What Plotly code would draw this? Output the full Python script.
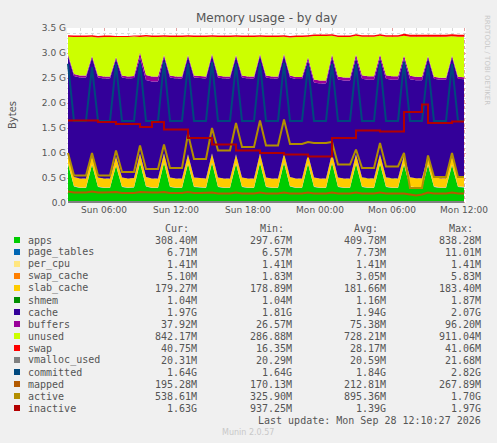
import pandas as pd
import plotly.graph_objects as go

N = 67
times = pd.date_range("2026-09-27 03:00", periods=N, freq="30min")

apps = [.78,.33,.30,.30, .76,.32,.30,.30, .74,.32,.30,.31, .80,.33,.30,.30,
        .80,.32,.30,.30, .78,.32,.31,.30, .80,.32,.30,.30, .78,.32,.30,.30,
        .80,.32,.30,.30, .80,.33,.30,.30, .78,.32,.30,.30, .80,.32,.30,.30,
        .78,.32,.30,.30, .78,.32,.30,.30, .76,.32,.30,.30, .75,.32,.30,.30,
        .75,.32,.31]
page_tables = [.008,.007,.007,.007, .008,.007,.007,.007, .008,.007,.007,.007, .008,.007,.007,.007,
               .008,.007,.007,.007, .008,.007,.007,.007, .008,.007,.007,.007, .008,.007,.007,.007,
               .008,.007,.007,.007, .008,.007,.007,.007, .008,.007,.007,.007, .008,.007,.007,.007,
               .008,.007,.007,.007, .008,.007,.007,.007, .008,.007,.007,.007, .008,.007,.007,.007,
               .008,.007,.007]
per_cpu = [.0014,.0014,.0014,.0014, .0014,.0014,.0014,.0014, .0014,.0014,.0014,.0014, .0014,.0014,.0014,.0014,
           .0014,.0014,.0014,.0014, .0014,.0014,.0014,.0014, .0014,.0014,.0014,.0014, .0014,.0014,.0014,.0014,
           .0014,.0014,.0014,.0014, .0014,.0014,.0014,.0014, .0014,.0014,.0014,.0014, .0014,.0014,.0014,.0014,
           .0014,.0014,.0014,.0014, .0014,.0014,.0014,.0014, .0014,.0014,.0014,.0014, .0014,.0014,.0014,.0014,
           .0014,.0014,.0014]
swap_cache = [.003,.003,.003,.003, .003,.003,.003,.003, .002,.002,.002,.002, .002,.002,.002,.002,
              .003,.003,.003,.003, .003,.003,.003,.003, .003,.003,.003,.003, .003,.003,.003,.003,
              .003,.003,.003,.003, .003,.003,.003,.003, .003,.003,.003,.003, .003,.003,.003,.003,
              .004,.004,.004,.004, .004,.004,.004,.004, .005,.005,.005,.005, .005,.005,.005,.005,
              .005,.005,.005]
slab_cache = [.18,.18,.18,.18, .18,.18,.18,.18, .18,.18,.18,.18, .18,.18,.18,.18,
              .18,.18,.18,.18, .18,.18,.18,.18, .18,.18,.18,.18, .18,.18,.18,.18,
              .18,.18,.18,.18, .18,.18,.18,.18, .18,.18,.18,.18, .18,.18,.18,.18,
              .18,.18,.18,.18, .18,.18,.18,.18, .18,.18,.18,.18, .18,.18,.18,.18,
              .18,.18,.18]
shmem = [.001,.001,.001,.001, .001,.001,.001,.001, .001,.001,.001,.001, .001,.001,.001,.001,
         .001,.001,.001,.001, .001,.001,.001,.001, .001,.001,.001,.001, .001,.001,.001,.001,
         .001,.001,.001,.001, .001,.001,.001,.001, .001,.001,.001,.001, .001,.001,.001,.001,
         .001,.001,.001,.001, .001,.001,.001,.001, .001,.001,.001,.001, .001,.001,.001,.001,
         .001,.001,.001]
cache = [1.96,2.02,2.02,2.02, 1.95,2.00,2.00,2.00, 1.95,2.00,2.00,2.00, 1.92,1.94,1.94,1.94,
         1.93,2.00,2.00,2.00, 1.95,2.00,2.00,2.00, 1.95,2.00,2.00,2.00, 1.95,2.00,2.00,2.00,
         1.95,2.00,2.00,2.00, 1.95,1.99,1.99,1.99, 1.88,1.90,1.90,1.90, 1.92,1.96,1.96,1.96,
         1.93,1.97,1.97,1.97, 1.93,1.97,1.97,1.97, 1.93,1.96,1.96,1.96, 1.96,1.97,1.97,1.97,
         1.97,1.97,1.97]
buffers = [.04,.04,.04,.04, .04,.04,.04,.04, .04,.04,.04,.04, .10,.10,.10,.10,
           .04,.04,.04,.04, .04,.04,.04,.04, .04,.04,.04,.04, .04,.04,.04,.04,
           .04,.04,.04,.04, .04,.04,.04,.04, .06,.06,.06,.06, .06,.06,.06,.06,
           .07,.07,.07,.07, .07,.07,.07,.07, .07,.07,.07,.07, .04,.04,.04,.04,
           .04,.04,.04]
unused = [.35,.74,.77,.77, .38,.76,.79,.79, .40,.77,.79,.79, .31,.77,.79,.79,
          .36,.77,.79,.79, .36,.77,.78,.79, .34,.77,.79,.79, .36,.77,.79,.79,
          .34,.77,.79,.79, .34,.76,.80,.80, .41,.87,.89,.89, .37,.79,.81,.81,
          .37,.77,.79,.79, .37,.77,.79,.79, .39,.78,.80,.80, .38,.80,.82,.82,
          .38,.80,.81]
swap = [.03,.03,.03,.03, .03,.03,.03,.03, .02,.02,.02,.02, .03,.03,.03,.03,
        .03,.03,.03,.03, .03,.03,.03,.03, .03,.03,.03,.03, .03,.03,.03,.03,
        .03,.03,.03,.03, .03,.03,.03,.03, .03,.03,.03,.03, .03,.03,.03,.03,
        .03,.03,.03,.03, .03,.03,.03,.03, .04,.04,.04,.04, .04,.04,.04,.04,
        .04,.04,.04]
vmalloc_used = [.02,.02,.02,.02, .02,.02,.02,.02, .02,.02,.02,.02, .02,.02,.02,.02,
                .02,.02,.02,.02, .02,.02,.02,.02, .02,.02,.02,.02, .02,.02,.02,.02,
                .02,.02,.02,.02, .02,.02,.02,.02, .02,.02,.02,.02, .02,.02,.02,.02,
                .02,.02,.02,.02, .02,.02,.02,.02, .02,.02,.02,.02, .02,.02,.02,.02,
                .02,.02,.02]
committed = [2.78,1.64,1.64,1.64, 2.72,1.64,1.64,1.64, 2.78,1.64,1.64,1.64, 2.80,1.64,1.64,1.64,
             2.82,1.64,1.64,1.64, 2.78,1.64,1.64,1.64, 2.82,1.64,1.64,1.64, 2.78,1.64,1.64,1.64,
             2.80,1.64,1.64,1.64, 2.80,1.64,1.64,1.64, 2.75,1.64,1.64,1.64, 2.78,1.64,1.64,1.64,
             2.78,1.64,1.64,1.64, 2.80,1.64,1.64,1.64, 2.82,1.64,1.64,1.64, 2.76,1.64,1.64,1.64,
             2.78,1.64,1.64]
mapped = [.23,.21,.21,.21, .23,.21,.21,.21, .22,.20,.20,.20, .22,.21,.21,.21,
          .22,.20,.20,.20, .22,.20,.20,.20, .21,.19,.19,.19, .21,.19,.19,.19,
          .21,.19,.19,.19, .21,.19,.19,.19, .21,.19,.19,.19, .21,.19,.19,.19,
          .21,.19,.19,.19, .21,.19,.19,.19, .19,.17,.15,.17, .21,.19,.19,.19,
          .21,.19,.19]
active = [1.00,.55,.55,.55, 1.00,.55,.55,.55, 1.05,.62,.62,.62, 1.15,.68,.68,.68,
          1.17,.70,.70,.70, 1.38,.88,.88,.88, 1.50,1.05,1.05,1.05, 1.60,1.12,1.12,1.12,
          1.65,1.15,1.15,1.15, 1.67,1.18,1.18,1.18, 1.22,1.20,1.20,1.20, 1.22,.77,.77,.77,
          1.07,.70,.70,.70, 1.20,.73,.73,.73, 1.00,.30,.30,.30, .95,.52,.52,.52,
          1.00,.52,.52]
inactive = [1.65,1.65,1.65,1.65, 1.65,1.62,1.62,1.62, 1.58,1.58,1.58,1.58, 1.52,1.52,1.62,1.62,
            1.47,1.47,1.47,1.47, 1.30,1.30,1.30,1.30, 1.17,1.17,1.17,1.17, 1.05,1.05,1.05,1.05,
            1.00,1.00,1.00,1.00, .97,.97,.97,.97, .93,.93,.93,.93, 1.30,1.30,1.30,1.30,
            1.45,1.45,1.45,1.45, 1.43,1.43,1.43,1.43, 1.82,1.82,1.82,1.97, 1.60,1.60,1.60,1.60,
            1.63,1.63,1.63]

names = ["apps", "page_tables", "per_cpu", "swap_cache", "slab_cache", "shmem", "cache",
         "buffers", "unused", "swap", "vmalloc_used", "committed", "mapped", "active", "inactive"]
colors = ["#00CC00", "#0066B3", "#FFE680", "#FF8000", "#FFCC00", "#008F00", "#330099",
          "#990099", "#CCFF00", "#FF0000", "#808080", "#00487D", "#B35A00", "#B38F00", "#B30000"]
cur = ["308.40M","6.71M","1.41M","5.10M","179.27M","1.04M","1.97G","37.92M","842.17M","40.75M","20.31M","1.64G","195.28M","538.61M","1.63G"]
mn = ["297.67M","6.57M","1.41M","1.83M","178.89M","1.04M","1.81G","26.57M","286.88M","16.35M","20.29M","1.64G","170.13M","325.90M","937.25M"]
avg = ["409.78M","7.73M","1.41M","3.05M","181.66M","1.16M","1.94G","75.38M","728.21M","28.17M","20.59M","1.84G","212.81M","895.36M","1.39G"]
mx = ["838.28M","11.01M","1.41M","5.83M","183.40M","1.87M","2.07G","96.20M","911.04M","41.06M","21.68M","2.82G","267.89M","1.70G","1.97G"]

stacked = [apps, page_tables, per_cpu, swap_cache, slab_cache, shmem, cache, buffers, unused, swap]
lines = [vmalloc_used, committed, mapped, active, inactive]

fig = go.Figure()
for i, s in enumerate(stacked):
    fig.add_trace(go.Scatter(x=times, y=s, stackgroup="one", mode="none",
                             fillcolor=colors[i], name=names[i]))
for j, s in enumerate(lines):
    i = 10 + j
    fig.add_trace(go.Scatter(x=times, y=s, mode="lines", name=names[i],
                             line=dict(color=colors[i], width=2, shape="hv" if names[i] == "inactive" else "linear")))

W, H = 497, 443
L, R, T, B = 67, 466, 28, 203
pw, ph = R - L, B - T
def px(x): return (x - L) / pw
def py(y): return (B - y) / ph

ann = []
shapes = []
mono = "DejaVu Sans Mono"
def A(x, y, text, xa="left", size=10, color="#555", fam=mono, **kw):
    ann.append(dict(xref="paper", yref="paper", x=px(x), y=py(y), text=text, xanchor=xa,
                    yanchor="middle", showarrow=False, font=dict(family=fam, size=size, color=color), **kw))

colx = [199, 294, 388, 483]
for k, h in enumerate(["Cur:", "Min:", "Avg:", "Max:"]):
    A(colx[k] - 8, 228, h, "right")
for r in range(15):
    yy = 240 + 12 * r
    shapes.append(dict(type="rect", xref="paper", yref="paper", x0=px(14), x1=px(20),
                       y0=py(yy + 3), y1=py(yy - 3), fillcolor=colors[r], line=dict(width=0)))
    A(26, yy, names[r])
    for k, col in enumerate([cur, mn, avg, mx]):
        A(colx[k], yy, col[r], "right")
A(483, 420, "Last update: Mon Sep 28 12:10:27 2026", "right")
A(248, 432, "Munin 2.0.57", "center", 8, "#c8c8c8", "DejaVu Sans")
A(266, 18, "Memory usage - by day", "center", 12, "#555", "DejaVu Sans")
A(12, 115, "Bytes", "center", 10, "#555", "DejaVu Sans", textangle=-90)
A(487, 60, "RRDTOOL / TOBI OETIKER", "center", 7, "#c8c8c8", "DejaVu Sans", textangle=90)

tickvals = pd.to_datetime(["2026-09-27 06:00", "2026-09-27 12:00", "2026-09-27 18:00",
                           "2026-09-28 00:00", "2026-09-28 06:00", "2026-09-28 12:00"])
ticktext = ["Sun 06:00", "Sun 12:00", "Sun 18:00", "Mon 00:00", "Mon 06:00", "Mon 12:00"]
yticks = [0, 0.5, 1.0, 1.5, 2.0, 2.5, 3.0, 3.5]
ytext = ["0.0", "0.5 G", "1.0 G", "1.5 G", "2.0 G", "2.5 G", "3.0 G", "3.5 G"]

fig.update_layout(
    width=W, height=H, margin=dict(l=L, r=W - R, t=T, b=H - B, autoexpand=False),
    paper_bgcolor="#F0F0F0", plot_bgcolor="#FFFFFF", showlegend=False,
    annotations=ann, shapes=shapes,
    xaxis=dict(range=[pd.Timestamp("2026-09-27 02:55"), pd.Timestamp("2026-09-28 12:10")],
               tickvals=tickvals, ticktext=ticktext, showgrid=True, gridcolor="rgba(230,150,150,0.8)",
               griddash="dot", gridwidth=1, ticks="", tickfont=dict(family="DejaVu Sans", size=9, color="#555"),
               minor=dict(dtick=3600000, showgrid=True, gridcolor="rgba(200,200,200,0.7)", griddash="dot"),
               zeroline=False, showline=False),
    yaxis=dict(range=[0, 3.5], tickvals=yticks, ticktext=ytext, showgrid=True,
               gridcolor="rgba(230,150,150,0.8)", griddash="dot",
               tickfont=dict(family="DejaVu Sans", size=9, color="#555"),
               minor=dict(dtick=0.1, showgrid=True, gridcolor="rgba(200,200,200,0.7)", griddash="dot"),
               zeroline=False, ticks=""),
)
fig.write_html("out.html", config={"displayModeBar": False},
               post_script="document.body.style.margin='0';document.body.style.background='#F0F0F0';")
